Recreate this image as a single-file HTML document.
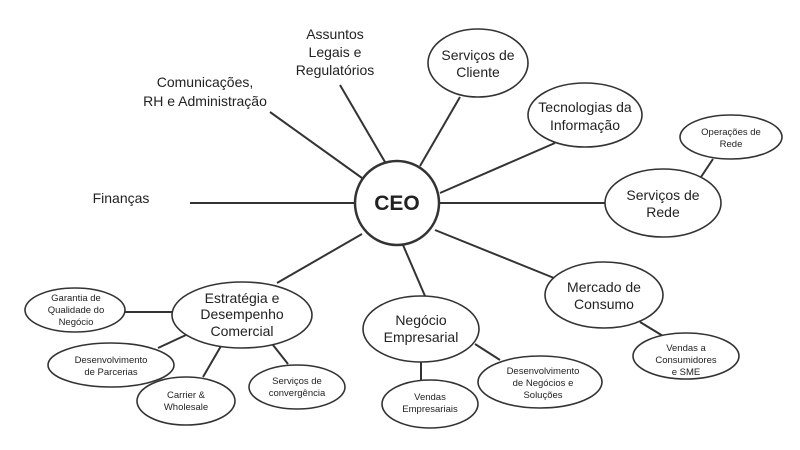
<!DOCTYPE html>
<html><head><meta charset="utf-8"><style>
html,body{margin:0;padding:0;background:#fff;width:800px;height:450px;overflow:hidden}
text{font-family:"Liberation Sans",sans-serif;fill:#222;text-anchor:middle}
.m{font-size:14px}.s{font-size:9.5px}
</style></head><body>
<svg width="800" height="450" viewBox="0 0 800 450" xmlns="http://www.w3.org/2000/svg">
<g stroke="#333" stroke-width="2" fill="none">
<line x1="190" y1="203" x2="356" y2="203"/>
<line x1="270" y1="112" x2="362" y2="178"/>
<line x1="340" y1="85" x2="385" y2="162"/>
<line x1="460" y1="97" x2="420" y2="166"/>
<line x1="555" y1="143" x2="440" y2="193"/>
<line x1="713" y1="159" x2="701" y2="177"/>
<line x1="439" y1="203" x2="605" y2="203"/>
<line x1="435" y1="230" x2="554" y2="278"/>
<line x1="640" y1="322" x2="663" y2="336"/>
<line x1="403" y1="245" x2="425" y2="296"/>
<line x1="475" y1="344" x2="500" y2="360"/>
<line x1="421" y1="362" x2="421" y2="380"/>
<line x1="277" y1="283" x2="362" y2="234"/>
<line x1="125" y1="312" x2="172" y2="312"/>
<line x1="158" y1="348" x2="186" y2="335"/>
<line x1="203" y1="377" x2="221" y2="346"/>
<line x1="273" y1="345" x2="288" y2="364"/>
</g>
<g stroke="#333" stroke-width="1.6" fill="#fff">
<circle cx="397" cy="203" r="42" stroke-width="2.5"/>
<ellipse cx="478" cy="63" rx="50" ry="34"/>
<ellipse cx="585" cy="115" rx="57" ry="32"/>
<ellipse cx="731" cy="137" rx="51" ry="22"/>
<ellipse cx="663" cy="203" rx="58" ry="34"/>
<ellipse cx="604" cy="295" rx="59" ry="33"/>
<ellipse cx="686" cy="356" rx="53" ry="23"/>
<ellipse cx="421" cy="329" rx="58" ry="33"/>
<ellipse cx="540" cy="382" rx="62" ry="26"/>
<ellipse cx="430" cy="404" rx="48" ry="24"/>
<ellipse cx="242" cy="315" rx="70" ry="33"/>
<ellipse cx="75" cy="310" rx="50" ry="22"/>
<ellipse cx="111" cy="365" rx="63" ry="22"/>
<ellipse cx="186" cy="401" rx="49" ry="24"/>
<ellipse cx="297" cy="387" rx="48" ry="22"/>
</g>
<text x="397" y="210" style="font-size:21px;font-weight:bold">CEO</text>
<text class="m" x="121" y="203">Finanças</text>
<text class="m" x="205" y="87">Comunicações,</text>
<text class="m" x="205" y="106">RH e Administração</text>
<text class="m" x="335" y="39">Assuntos</text>
<text class="m" x="335" y="57">Legais e</text>
<text class="m" x="335" y="75">Regulatórios</text>
<text class="m" x="478" y="60">Serviços de</text>
<text class="m" x="478" y="77">Cliente</text>
<text class="m" x="585" y="112">Tecnologias da</text>
<text class="m" x="585" y="130">Informação</text>
<text class="s" x="731" y="135">Operações de</text>
<text class="s" x="731" y="147">Rede</text>
<text class="m" x="663" y="200">Serviços de</text>
<text class="m" x="663" y="217">Rede</text>
<text class="m" x="604" y="292">Mercado de</text>
<text class="m" x="604" y="309">Consumo</text>
<text class="s" x="686" y="351">Vendas a</text>
<text class="s" x="686" y="363">Consumidores</text>
<text class="s" x="686" y="375">e SME</text>
<text class="m" x="421" y="325">Negócio</text>
<text class="m" x="421" y="342">Empresarial</text>
<text class="s" x="543" y="374">Desenvolvimento</text>
<text class="s" x="543" y="386">de Negócios e</text>
<text class="s" x="543" y="398">Soluções</text>
<text class="s" x="430" y="400">Vendas</text>
<text class="s" x="430" y="412">Empresariais</text>
<text class="m" x="242" y="303">Estratégia e</text>
<text class="m" x="242" y="319">Desempenho</text>
<text class="m" x="242" y="336">Comercial</text>
<text class="s" x="76" y="301">Garantia de</text>
<text class="s" x="76" y="313">Qualidade do</text>
<text class="s" x="76" y="325">Negócio</text>
<text class="s" x="111" y="363">Desenvolvimento</text>
<text class="s" x="111" y="375">de Parcerias</text>
<text class="s" x="186" y="398">Carrier &amp;</text>
<text class="s" x="186" y="410">Wholesale</text>
<text class="s" x="297" y="384">Serviços de</text>
<text class="s" x="297" y="396">convergência</text>
</svg>
</body></html>
